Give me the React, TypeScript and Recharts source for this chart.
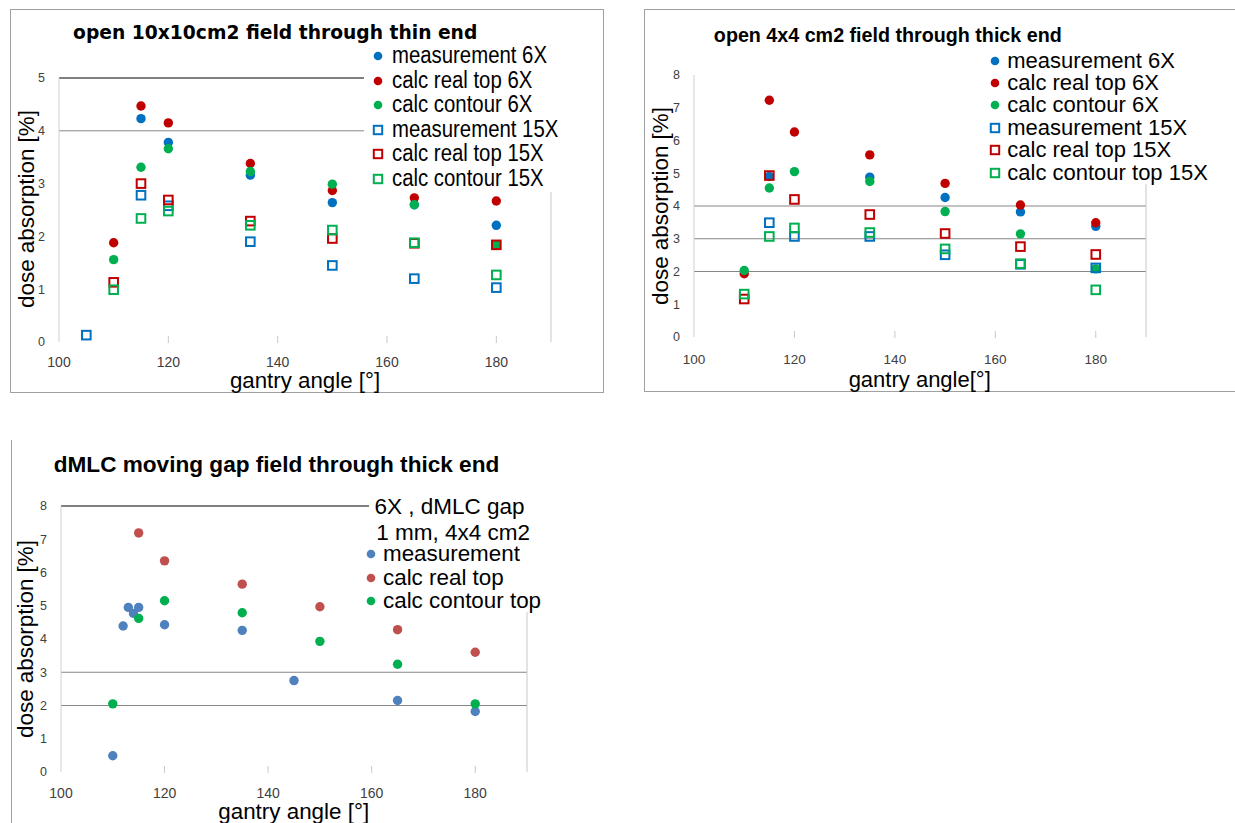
import React from 'react';
import { ScatterChart, Scatter, XAxis, YAxis, ReferenceLine } from 'recharts';

const FONT = '"Liberation Sans", Arial, sans-serif';
const WIDE = '"DejaVu Sans", Verdana, sans-serif';

// chart 1: open 10x10 cm2, thin end
const thinAngles = [105, 110, 115, 120, 135, 150, 165, 180];
const thinMeas6 = [null, null, 4.23, 3.78, 3.16, 2.64, 2.6, 2.21];
const thinReal6 = [null, 1.88, 4.47, 4.15, 3.38, 2.87, 2.73, 2.67];
const thinCont6 = [null, 1.56, 3.31, 3.66, 3.23, 2.99, 2.6, 1.84];
const thinMeas15 = [0.13, null, 2.78, 2.58, 1.9, 1.45, 1.2, 1.03];
const thinReal15 = [null, 1.13, 3.0, 2.69, 2.29, 1.96, 1.87, 1.84];
const thinCont15 = [null, 0.99, 2.34, 2.48, 2.21, 2.12, 1.88, 1.27];

// chart 2: open 4x4 cm2, thick end
const thickAngles = [110, 115, 120, 135, 150, 165, 180];
const thickMeas6 = [null, 4.9, null, 4.88, 4.26, 3.82, 3.38];
const thickReal6 = [1.93, 7.23, 6.26, 5.56, 4.69, 4.03, 3.49];
const thickCont6 = [2.03, 4.55, 5.05, 4.75, 3.83, 3.15, 2.08];
const thickMeas15 = [null, 3.49, 3.07, 3.07, 2.51, 2.22, 2.11];
const thickReal15 = [1.16, 4.93, 4.2, 3.74, 3.16, 2.76, 2.52];
const thickCont15 = [1.31, 3.07, 3.33, 3.19, 2.69, 2.24, 1.44];

// chart 3: dMLC moving gap
const gapMeasAngles = [110, 112, 113, 114, 115, 120, 135, 145, 165, 180];
const gapMeas = [0.49, 4.39, 4.95, 4.77, 4.95, 4.43, 4.26, 2.75, 2.15, 1.82];
const gapRealAngles = [115, 120, 135, 150, 165, 180];
const gapReal = [7.19, 6.35, 5.65, 4.97, 4.28, 3.6];
const gapContAngles = [110, 115, 120, 135, 150, 165, 180];
const gapCont = [2.05, 4.62, 5.15, 4.79, 3.93, 3.24, 2.05];

const xTicks = [100, 120, 140, 160, 180];
const yTicks5 = [0, 1, 2, 3, 4, 5];
const yTicks8 = [0, 1, 2, 3, 4, 5, 6, 7, 8];

const BLUE = '#0070C0';
const RED = '#C00000';
const GREEN = '#00B050';
const BLUE2 = '#4F81BD';
const RED2 = '#C0504D';

const pts = (xs: number[], ys: (number | null)[]) =>
  xs.map((x, i) => ({ x, y: ys[i] })).filter((p) => p.y !== null);

const dot = (color: string) => (p: any) => <circle cx={p.cx} cy={p.cy} r={4.7} fill={color} />;
const square = (color: string) => (p: any) => (
  <rect x={p.cx - 4.3} y={p.cy - 4.3} width={8.6} height={8.6} fill="none" stroke={color} strokeWidth={2} />
);

const xTick = (m: number, fs: number) => (p: any) => {
  const { x, y, payload } = p;
  return (
    <g>
      {payload.value !== 100 && (
        <line x1={x} x2={x} y1={y - m - 6} y2={y - m + 1} stroke="#c8c8c8" />
      )}
      <text x={x} y={y} dy="0.71em" textAnchor="middle" fontSize={fs} fill="#404040" fontFamily={FONT}>
        {payload.value}
      </text>
    </g>
  );
};

interface Box {
  L: number; T: number; W: number; H: number;
  pl: number; pr: number; pt: number; pb: number;
}

function Plot({ box, yMax, yTicks, grid, children, tm, fs }: { box: Box; yMax: number; yTicks: number[]; grid: { y: number; c: string }[]; children: React.ReactNode; tm: number; fs: number }) {
  const { L, T, W, H, pl, pr, pt, pb } = box;
  return (
    <div style={{ position: 'absolute', left: L, top: T }}>
      <ScatterChart
        width={W}
        height={H}
        margin={{ top: pt - T, right: W - (pr - L), left: 0, bottom: 0 }}
      >
        <XAxis
          type="number"
          dataKey="x"
          domain={[100, 190]}
          ticks={xTicks}
          height={T + H - pb}
          axisLine={false}
          tickLine={false}
          tickSize={0}
          tickMargin={tm}
          tick={xTick(tm, fs)}
          allowDataOverflow
        />
        <YAxis
          type="number"
          dataKey="y"
          domain={[0, yMax]}
          ticks={yTicks}
          width={pl - L}
          axisLine={{ stroke: '#d0d0d0' }}
          tickLine={false}
          tickSize={0}
          tickMargin={14}
          tick={{ fontSize: 12.5, fill: '#404040', fontFamily: FONT }}
          allowDataOverflow
        />
        {grid.map((g) => (
          <ReferenceLine key={g.y} y={g.y} stroke={g.c} strokeWidth={1} />
        ))}
        <ReferenceLine x={190} stroke="#c8c8c8" />
        {children}
      </ScatterChart>
    </div>
  );
}

function Text({ x, y, size, children, bold, rotate, center, family }: any) {
  return (
    <div
      style={{
        position: 'absolute',
        left: x,
        top: y,
        transform: `translate(${center === false ? '0' : '-50%'}, -50%)${rotate ? ' rotate(-90deg)' : ''}`,
        fontFamily: family || FONT,
        fontSize: size,
        fontWeight: bold ? 'bold' : 'normal',
        whiteSpace: 'nowrap',
        color: '#000',
        lineHeight: 0.85,
      }}
    >
      {children}
    </div>
  );
}

function LegendRow({ x, y, kind, color, label, size, sx, tx }: any) {
  return (
    <div style={{ position: 'absolute', left: x - 6, top: y - 6 }}>
      <svg width={12} height={12} style={{ position: 'absolute', left: 0, top: 0 }}>
        {kind === 'dot' ? (
          <circle cx={6} cy={6} r={4.3} fill={color} />
        ) : (
          <rect x={1.8} y={1.8} width={8.4} height={8.4} fill="none" stroke={color} strokeWidth={2} />
        )}
      </svg>
      <div
        style={{
          position: 'absolute',
          left: tx,
          top: 6,
          transform: `translateY(-50%) scaleX(${sx})`,
          transformOrigin: 'left center',
          fontFamily: FONT,
          fontSize: size,
          whiteSpace: 'nowrap',
          lineHeight: 0.85,
        }}
      >
        {label}
      </div>
    </div>
  );
}

const box1: Box = { L: 0, T: 0, W: 570, H: 392, pl: 59, pr: 551, pt: 78, pb: 342 };
const box2: Box = { L: 640, T: 0, W: 520, H: 392, pl: 694, pr: 1146, pt: 75, pb: 337 };
const box3: Box = { L: 0, T: 440, W: 545, H: 383, pl: 61, pr: 527, pt: 506, pb: 772 };

const legend1 = [
  { kind: 'dot', color: BLUE, label: 'measurement 6X' },
  { kind: 'dot', color: RED, label: 'calc real top 6X' },
  { kind: 'dot', color: GREEN, label: 'calc contour 6X' },
  { kind: 'sq', color: BLUE, label: 'measurement 15X' },
  { kind: 'sq', color: RED, label: 'calc real top 15X' },
  { kind: 'sq', color: GREEN, label: 'calc contour 15X' },
];
const legend1Y = [56, 80.7, 105.3, 130, 154.3, 179.3];
const legend2 = [
  { kind: 'dot', color: BLUE, label: 'measurement 6X' },
  { kind: 'dot', color: RED, label: 'calc real top 6X' },
  { kind: 'dot', color: GREEN, label: 'calc contour 6X' },
  { kind: 'sq', color: BLUE, label: 'measurement 15X' },
  { kind: 'sq', color: RED, label: 'calc real top 15X' },
  { kind: 'sq', color: GREEN, label: 'calc contour top 15X' },
];
const legend2Y = [60.7, 82.7, 105.3, 127.7, 150.3, 173.3];
const legend3 = [
  { kind: 'dot', color: BLUE2, label: 'measurement' },
  { kind: 'dot', color: RED2, label: 'calc real top' },
  { kind: 'dot', color: GREEN, label: 'calc contour top' },
];
const legend3Y = [554.3, 578, 601];

export default function App() {
  return (
    <div style={{ position: 'absolute', left: 0, top: 0, width: 1235, height: 823, background: '#fff', overflow: 'hidden' }}>
      {/* frames */}
      <div style={{ position: 'absolute', left: 10, top: 9, width: 592, height: 382, border: '1px solid #a0a0a0' }} />
      <div style={{ position: 'absolute', left: 644, top: 9, width: 620, height: 381, border: '1px solid #a0a0a0' }} />
      <div style={{ position: 'absolute', left: 11, top: 440, width: 1, height: 383, background: '#a0a0a0' }} />

      <Plot box={box1} yMax={5} yTicks={yTicks5} tm={15} fs={14} grid={[{ y: 5, c: '#000' }, { y: 4, c: '#868686' }]}>
        <Scatter data={pts(thinAngles, thinMeas6)} shape={dot(BLUE)} isAnimationActive={false} />
        <Scatter data={pts(thinAngles, thinReal6)} shape={dot(RED)} isAnimationActive={false} />
        <Scatter data={pts(thinAngles, thinCont6)} shape={dot(GREEN)} isAnimationActive={false} />
        <Scatter data={pts(thinAngles, thinMeas15)} shape={square(BLUE)} isAnimationActive={false} />
        <Scatter data={pts(thinAngles, thinReal15)} shape={square(RED)} isAnimationActive={false} />
        <Scatter data={pts(thinAngles, thinCont15)} shape={square(GREEN)} isAnimationActive={false} />
      </Plot>

      <Plot box={box2} yMax={8} yTicks={yTicks8} tm={17} fs={13.5} grid={[{ y: 2, c: '#868686' }, { y: 3, c: '#868686' }, { y: 4, c: '#868686' }]}>
        <Scatter data={pts(thickAngles, thickMeas6)} shape={dot(BLUE)} isAnimationActive={false} />
        <Scatter data={pts(thickAngles, thickReal6)} shape={dot(RED)} isAnimationActive={false} />
        <Scatter data={pts(thickAngles, thickCont6)} shape={dot(GREEN)} isAnimationActive={false} />
        <Scatter data={pts(thickAngles, thickMeas15)} shape={square(BLUE)} isAnimationActive={false} />
        <Scatter data={pts(thickAngles, thickReal15)} shape={square(RED)} isAnimationActive={false} />
        <Scatter data={pts(thickAngles, thickCont15)} shape={square(GREEN)} isAnimationActive={false} />
      </Plot>

      <Plot box={box3} yMax={8} yTicks={yTicks8} tm={16} fs={14} grid={[{ y: 8, c: '#000' }, { y: 3, c: '#868686' }, { y: 2, c: '#868686' }]}>
        <Scatter data={pts(gapMeasAngles, gapMeas)} shape={dot(BLUE2)} isAnimationActive={false} />
        <Scatter data={pts(gapRealAngles, gapReal)} shape={dot(RED2)} isAnimationActive={false} />
        <Scatter data={pts(gapContAngles, gapCont)} shape={dot(GREEN)} isAnimationActive={false} />
      </Plot>

      {/* legend boxes (white, cover the grid behind them) */}
      <div style={{ position: 'absolute', left: 364, top: 42, width: 237, height: 150, background: '#fff' }} />
      {legend1.map((l, i) => (
        <LegendRow key={l.label} x={377.7} y={legend1Y[i]} kind={l.kind} color={l.color} label={l.label} size={23} sx={0.885} tx={20} />
      ))}
      <div style={{ position: 'absolute', left: 985, top: 45, width: 249, height: 139, background: '#fff' }} />
      {legend2.map((l, i) => (
        <LegendRow key={l.label} x={995.3} y={legend2Y[i]} kind={l.kind} color={l.color} label={l.label} size={22} sx={1} tx={18} />
      ))}
      <div style={{ position: 'absolute', left: 369, top: 490, width: 180, height: 122, background: '#fff' }} />
      <Text x={374.5} y={507} size={22.5} center={false}>6X , dMLC gap</Text>
      <Text x={376.3} y={533.3} size={22.5} center={false}>1 mm, 4x4 cm2</Text>
      {legend3.map((l, i) => (
        <LegendRow key={l.label} x={371} y={legend3Y[i]} kind={l.kind} color={l.color} label={l.label} size={22.4} sx={1} tx={18} />
      ))}

      {/* titles */}
      <Text x={275.2} y={33} size={18.7} bold family={WIDE}>open 10x10cm2 field through thin end</Text>
      <Text x={887.8} y={35} size={19.7} bold>open 4x4 cm2 field through thick end</Text>
      <Text x={276.5} y={465} size={22.6} bold>dMLC moving gap field through thick end</Text>

      {/* axis titles */}
      <Text x={26.7} y={209} size={22.4} rotate>dose absorption [%]</Text>
      <Text x={660.7} y={206} size={22.4} rotate>dose absorption [%]</Text>
      <Text x={26} y={639} size={22.4} rotate>dose absorption [%]</Text>
      <Text x={305} y={380.5} size={22.3}>gantry angle [°]</Text>
      <Text x={919.7} y={380} size={22}>gantry angle[°]</Text>
      <Text x={293.7} y={811.7} size={22.4}>gantry angle [°]</Text>
    </div>
  );
}
